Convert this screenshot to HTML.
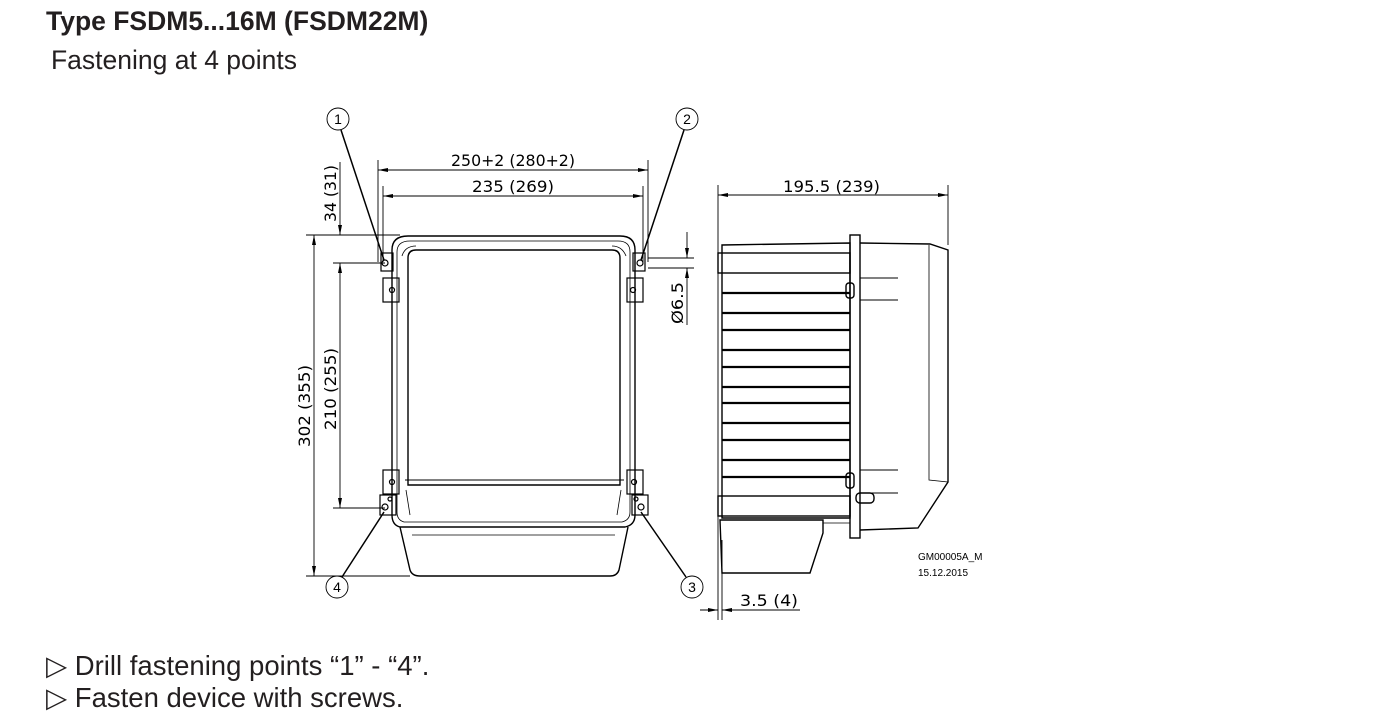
<!DOCTYPE html>
<html><head><meta charset="utf-8"><style>
body{margin:0;background:#fff;width:1383px;height:726px;overflow:hidden;position:relative;font-family:"Liberation Sans",Arial,sans-serif;color:#231f20}
.t{position:absolute;white-space:nowrap;line-height:1}
</style></head><body>
<div class="t" style="left:46px;top:8px;font-size:26.5px;font-weight:bold">Type FSDM5...16M (FSDM22M)</div>
<div class="t" style="left:51px;top:47px;font-size:26.5px">Fastening at 4 points</div>
<div class="t" style="left:46px;top:652px;font-size:27.5px">▷ Drill fastening points “1” - “4”.</div>
<div class="t" style="left:46px;top:684px;font-size:27.5px">▷ Fasten device with screws.</div>
<svg width="1383" height="726" style="position:absolute;left:0;top:0" xmlns="http://www.w3.org/2000/svg">
<defs><marker id="a" viewBox="0 0 10 4" refX="10" refY="2" markerWidth="12" markerHeight="4" markerUnits="userSpaceOnUse" orient="auto-start-reverse"><path d="M0,0L10,2L0,4z" fill="#000"/></marker></defs>
<g stroke="#000" stroke-width="0.9" fill="none">
<line x1="378" y1="160" x2="378" y2="262"/><line x1="648" y1="160" x2="648" y2="262"/>
<line x1="383" y1="186" x2="383" y2="262"/><line x1="643" y1="186" x2="643" y2="262"/>
<line x1="378" y1="170" x2="648" y2="170" marker-start="url(#a)" marker-end="url(#a)"/>
<line x1="383" y1="196" x2="643" y2="196" marker-start="url(#a)" marker-end="url(#a)"/>
<line x1="306" y1="235" x2="400" y2="235"/><line x1="333" y1="263" x2="385" y2="263"/>
<line x1="333" y1="508" x2="385" y2="508"/><line x1="306" y1="576" x2="410" y2="576"/>
<line x1="340" y1="162" x2="340" y2="235" marker-end="url(#a)"/>
<line x1="340" y1="263" x2="340" y2="508" marker-start="url(#a)" marker-end="url(#a)"/>
<line x1="314" y1="235" x2="314" y2="576" marker-start="url(#a)" marker-end="url(#a)"/>
<circle cx="338" cy="119" r="11"/><circle cx="687" cy="119" r="11"/><circle cx="337" cy="587" r="11"/><circle cx="692" cy="587" r="11"/>
<line x1="341" y1="130" x2="384" y2="260" stroke-width="1.5"/><line x1="684" y1="130" x2="641" y2="260" stroke-width="1.5"/>
<line x1="342" y1="577" x2="384" y2="512" stroke-width="1.5"/><line x1="686" y1="577" x2="641" y2="512" stroke-width="1.5"/>
<line x1="648" y1="258" x2="694" y2="258"/><line x1="648" y1="268" x2="694" y2="268"/>
<line x1="687" y1="232" x2="687" y2="258" marker-end="url(#a)"/><line x1="687" y1="325" x2="687" y2="268" marker-end="url(#a)"/>
<g stroke-width="1.4">
<path d="M392,250 Q392,236 408,236 L620,236 Q635,236 635,250 L635,515 Q635,525 625,527 L400,527 Q392,525 392,515 Z"/>
<path d="M397,252 Q397,241 410,241 L618,241 Q630,241 630,252 L630,512 Q630,520 622,522 L404,522 Q397,520 397,512 Z" stroke-width="0.8"/>
<path d="M408,258 Q408,250 416,250 L612,250 Q620,250 620,258 L620,485 L408,485 Z"/>
<path d="M402,256 Q405,246 416,246 M626,256 Q622,246 612,246" stroke-width="0.8"/>
<line x1="405" y1="480" x2="624" y2="480" stroke-width="1"/>
<path d="M400,527 L410,570 Q412,576 420,576 L610,576 Q617,576 619,570 L628,527"/>
<line x1="412" y1="535" x2="615" y2="535" stroke-width="0.8"/>
<path d="M406,490 L410,515 M621,490 L617,515" stroke-width="0.8"/>
</g>
<g stroke-width="1.2">
<rect x="381" y="253" width="12" height="18"/><circle cx="385" cy="263" r="3"/>
<rect x="633" y="253" width="12" height="18"/><circle cx="640" cy="263" r="3"/>
<rect x="383" y="278" width="16" height="24"/><circle cx="392" cy="290" r="2.5"/>
<rect x="627" y="278" width="16" height="24"/><circle cx="633" cy="290" r="2.5"/>
<rect x="383" y="470" width="16" height="24"/><circle cx="392" cy="482" r="2.5"/>
<rect x="627" y="470" width="16" height="24"/><circle cx="634" cy="482" r="2.5"/>
<rect x="380" y="495" width="16" height="20"/><circle cx="385" cy="507" r="3"/><circle cx="390" cy="499" r="2"/>
<rect x="632" y="495" width="16" height="20"/><circle cx="641" cy="507" r="3"/><circle cx="636" cy="499" r="2"/>
</g>
<line x1="718" y1="185" x2="718" y2="620"/><line x1="722" y1="540" x2="722" y2="620"/>
<line x1="948" y1="185" x2="948" y2="245"/>
<line x1="718" y1="195" x2="948" y2="195" marker-start="url(#a)" marker-end="url(#a)"/>
<line x1="700" y1="610" x2="718" y2="610" marker-end="url(#a)"/><line x1="800" y1="610" x2="722" y2="610" marker-end="url(#a)"/>
<g stroke-width="1.4">
<path d="M722,245 L850,243 L850,518 L722,518 Z"/>
<rect x="718" y="253" width="132" height="20"/>
<rect x="718" y="496" width="132" height="20"/>
<rect x="850" y="235" width="10" height="303"/>
<path d="M860,243 L930,244 L948,250 L948,482 L918,528 L860,530"/>
<path d="M929,245 L929,480 L948,482" stroke-width="0.8"/>
<path d="M720,520 L823,520 L823,533 L810,573 L722,573 Z"/>
<line x1="823" y1="523" x2="850" y2="523" stroke-width="0.8"/>
<path d="M860,278 L898,278 M860,300 L898,300 M860,470 L898,470 M860,493 L898,493" stroke-width="1"/>
<rect x="846" y="283" width="8" height="15" rx="3"/><rect x="846" y="473" width="8" height="15" rx="3"/>
<rect x="856" y="493" width="18" height="10" rx="4"/>
</g>
<g stroke-width="2.2">
<line x1="722" y1="293" x2="850" y2="293"/><line x1="722" y1="313" x2="850" y2="313"/><line x1="722" y1="330" x2="850" y2="330"/><line x1="722" y1="350" x2="850" y2="350"/><line x1="722" y1="367" x2="850" y2="367"/><line x1="722" y1="387" x2="850" y2="387"/><line x1="722" y1="403" x2="850" y2="403"/><line x1="722" y1="423" x2="850" y2="423"/><line x1="722" y1="440" x2="850" y2="440"/><line x1="722" y1="460" x2="850" y2="460"/><line x1="722" y1="477" x2="850" y2="477"/>
</g>
</g>
<g font-family="DejaVu Sans, sans-serif" font-size="16" fill="#000">
<text x="451" y="166" textLength="124" lengthAdjust="spacingAndGlyphs">250+2 (280+2)</text>
<text x="472" y="192" textLength="82" lengthAdjust="spacingAndGlyphs">235 (269)</text>
<text x="783" y="192" textLength="97" lengthAdjust="spacingAndGlyphs">195.5 (239)</text>
<text x="740" y="606" textLength="58" lengthAdjust="spacingAndGlyphs">3.5 (4)</text>
<text transform="translate(336,222) rotate(-90)" textLength="57" lengthAdjust="spacingAndGlyphs">34 (31)</text>
<text transform="translate(336,430) rotate(-90)" textLength="82" lengthAdjust="spacingAndGlyphs">210 (255)</text>
<text transform="translate(310,447) rotate(-90)" textLength="82" lengthAdjust="spacingAndGlyphs">302 (355)</text>
<text transform="translate(683,324) rotate(-90)" textLength="42" lengthAdjust="spacingAndGlyphs">Ø6.5</text>
<g font-family="Liberation Sans, sans-serif" font-size="14" text-anchor="middle"><text x="338" y="124">1</text><text x="687" y="124">2</text><text x="337" y="592">4</text><text x="692" y="592">3</text></g>
<text x="918" y="560" font-size="10" font-family="Liberation Sans, sans-serif">GM00005A_M</text>
<text x="918" y="576" font-size="10" font-family="Liberation Sans, sans-serif">15.12.2015</text>
</g>
</svg>
</body></html>
